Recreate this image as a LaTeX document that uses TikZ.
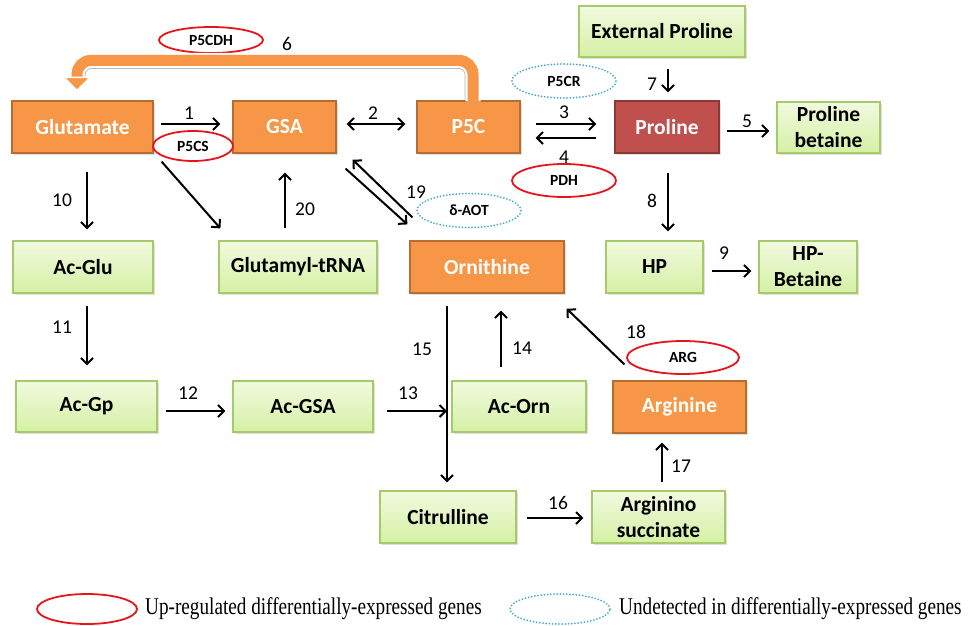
\documentclass[tikz,border=0pt]{standalone}
\usepackage{fontspec}
\setmainfont{Carlito}
\newfontfamily\legendfont{Liberation Serif}
\usepackage{tikz}
\usetikzlibrary{arrows.meta,shadows,shapes.geometric}

\definecolor{orfill}{HTML}{F79646}
\definecolor{ordraw}{HTML}{B66D31}
\definecolor{prfill}{HTML}{C0504D}
\definecolor{prdraw}{HTML}{8C3836}
\definecolor{grtop}{HTML}{F1FADF}
\definecolor{grbot}{HTML}{D5F0A4}
\definecolor{grdraw}{HTML}{A6C96A}
\definecolor{upred}{HTML}{E8141C}
\definecolor{undblue}{HTML}{4BACC6}

\begin{document}
\begin{tikzpicture}[x=1pt,y=-1pt,>={Straight Barb[length=6pt,width=12pt]}]
\tikzstyle{met} = [rectangle, inner sep=0pt, align=center, line width=1.2pt,
  font=\fontsize{21.5}{26}\selectfont\bfseries,
  drop shadow={shadow xshift=1.5pt,shadow yshift=-1.5pt,opacity=.25}]
\tikzstyle{hotbox} = [met, fill=orfill, draw=ordraw, text=white]
\tikzstyle{probox} = [met, fill=prfill, draw=prdraw, text=white]
\tikzstyle{coldbox} = [met, top color=grtop, bottom color=grbot, draw=grdraw]
\tikzstyle{enz} = [ellipse, inner sep=0pt, font=\fontsize{15.5}{16}\selectfont\bfseries]
\tikzstyle{upenz} = [enz, draw=upred, line width=1.8pt]
\tikzstyle{undenz} = [enz, draw=undblue, line width=2pt, line cap=round, dash pattern=on 0pt off 3.2pt]
\tikzstyle{rxn} = [line width=2pt, ->]
\tikzstyle{num} = [inner sep=0pt, font=\fontsize{19.5}{20}\selectfont]
\tikzstyle{keytext} = [anchor=west, inner sep=0pt, font=\legendfont\fontsize{24}{26}\selectfont]

\useasboundingbox (0,0) rectangle (970,625);

% metabolites
\node[hotbox, minimum width=141pt, minimum height=52pt] (glu) at (82.5,127) {Glutamate};
\node[hotbox, minimum width=103pt, minimum height=52pt] (gsa) at (284.5,127) {GSA};
\node[hotbox, minimum width=103pt, minimum height=52pt] (pvc) at (468.5,127) {P5C};
\node[probox, minimum width=104pt, minimum height=52pt] (pro) at (667,127) {Proline};
\node[coldbox, minimum width=103pt, minimum height=51pt] (probet) at (828.5,127.5) {Proline\\betaine};
\node[coldbox, minimum width=166pt, minimum height=51pt] (extpro) at (662,31.5) {External Proline};
\node[coldbox, minimum width=140pt, minimum height=52pt] (acglu) at (83,267) {Ac-Glu};
\node[coldbox, minimum width=158pt, minimum height=52pt] (gtrna) at (298,267) {Glutamyl-tRNA};
\node[hotbox, minimum width=154pt, minimum height=52pt] (orn) at (487,267) {Ornithine};
\node[coldbox, minimum width=97pt, minimum height=52pt] (hp) at (654.5,267) {HP};
\node[coldbox, minimum width=98pt, minimum height=52pt] (hpbet) at (808,267) {HP-\\Betaine};
\node[coldbox, minimum width=141pt, minimum height=51pt] (acgp) at (86.5,406.5) {Ac-Gp};
\node[coldbox, minimum width=140pt, minimum height=51pt] (acgsa) at (303,406.5) {Ac-GSA};
\node[coldbox, minimum width=134pt, minimum height=51pt] (acorn) at (519,406.5) {Ac-Orn};
\node[hotbox, minimum width=133pt, minimum height=52pt] (arg) at (679.5,407) {Arginine};
\node[coldbox, minimum width=136pt, minimum height=52pt] (cit) at (448,517) {Citrulline};
\node[coldbox, minimum width=133pt, minimum height=52pt] (argsuc) at (658.5,517) {Arginino\\succinate};

% enzymes
\node[upenz, minimum width=104pt, minimum height=26pt] (pcdh) at (211,40) {P5CDH};
\node[upenz, minimum width=80pt, minimum height=30pt] (pcs) at (193,146) {P5CS};
\node[undenz, minimum width=104pt, minimum height=34pt] (pcr) at (564,81) {P5CR};
\node[upenz, minimum width=104pt, minimum height=33pt] (pdh) at (564,180.5) {PDH};
\node[undenz, minimum width=104pt, minimum height=34pt] (aot) at (469,210.5) {δ-AOT};
\node[upenz, minimum width=112pt, minimum height=33pt] (argase) at (683,357.5) {ARG};

% reaction 6, back to glutamate
\draw[gray!55, line width=1pt, rounded corners=6pt]
  ([shift={(-3.5,0)}]pvc.north) -- ++(0,-32) -| ([shift={(2.5,-21)}]glu.north);
\draw[white, line width=15pt, rounded corners=14pt]
  ([shift={(4.5,1)}]pvc.north) -- ++(0,-41) -| ([shift={(-5.5,-22)}]glu.north);
\draw[orfill, line width=11pt, rounded corners=14pt]
  ([shift={(4.5,1)}]pvc.north) -- ++(0,-41) -| ([shift={(-5.5,-22)}]glu.north);
\filldraw[fill=orfill, draw=white, line width=1.5pt, line join=round]
  ([shift={(-18.5,-23)}]glu.north) -- ([shift={(7.5,-23)}]glu.north)
  -- ([shift={(-5.5,-10)}]glu.north) -- cycle;

% reactions
\draw[rxn] ([shift={(7,-3)}]glu.east) -- ([shift={(-12,-3)}]gsa.west);
\draw[rxn, <->] ([shift={(10,-3)}]gsa.east) -- ([shift={(-11,-3)}]pvc.west);
\draw[rxn] ([shift={(15,-3)}]pvc.east) -- ([shift={(-18,-3)}]pro.west);
\draw[rxn] ([shift={(-18,11)}]pro.west) -- ([shift={(15,11)}]pvc.east);
\draw[rxn] ([shift={(7,4)}]pro.east) -- ([shift={(-7,3.5)}]probet.west);
\draw[rxn] ([shift={(6,11)}]extpro.south) -- ([shift={(1,-8)}]pro.north);
\draw[rxn] ([shift={(1,19)}]pro.south) -- ([shift={(13.5,-9)}]hp.north);
\draw[rxn] ([shift={(8,4)}]hp.east) -- ([shift={(-7,4)}]hpbet.west);
\draw[rxn] ([shift={(4.5,18)}]glu.south) -- ([shift={(4,-11)}]acglu.north);
\draw[rxn] ([shift={(8,8)}]glu.south east) -- ([shift={(2,-12)}]gtrna.north west);
\draw[rxn] ([shift={(-13,-12)}]gtrna.north) -- ([shift={(0.5,19)}]gsa.south);
\draw[rxn] ([shift={(9,15)}]gsa.south east) -- ([shift={(-2,-16)}]orn.north west);
\draw[rxn] ([shift={(3,-23)}]orn.north west) -- ([shift={(16,6)}]gsa.south east);
\draw[rxn] ([shift={(4,12)}]acglu.south) -- ([shift={(0.5,-15)}]acgp.north);
\draw[rxn] ([shift={(8,4.5)}]acgp.east) -- ([shift={(-7,4.5)}]acgsa.west);
\draw[rxn] ([shift={(-40,12)}]orn.south) -- ([shift={(-1,-8)}]cit.north);
\draw[rxn] ([shift={(13,4.5)}]acgsa.east) -- ([shift={(-1,4.5)}]acgsa.east -| cit.north);
\draw[rxn] ([shift={(-18,-13)}]acorn.north) -- ([shift={(14,17)}]orn.south);
\draw[rxn] ([shift={(10,1)}]cit.east) -- ([shift={(-8,1)}]argsuc.west);
\draw[rxn] ([shift={(3.5,-8)}]argsuc.north) -- ([shift={(-17.5,9)}]arg.south);
\draw[rxn] ([shift={(12,-16)}]arg.north west) -- ([shift={(2,15)}]orn.south east);

% reaction numbers
\foreach \k/\x/\y in {1/189/113, 2/373/113, 3/564/112, 4/564/157, 5/747/121,
  6/287/44, 7/652/84, 8/652/201, 9/724/253, 10/62/200, 11/62/327, 12/188/393,
  13/408/393, 14/522/348, 15/422/349, 16/558/503, 17/681/466, 18/636/332,
  19/416/192, 20/305/209}
  \node[num] (n\k) at (\x,\y) {\k};

% key
\node[upenz, minimum width=100pt, minimum height=30pt] (keyup) at (87,609) {};
\node[keytext] (keyuptext) at (145,609) {\scalebox{0.8}[1]{Up-regulated differentially-expressed genes}};
\node[undenz, minimum width=100pt, minimum height=30pt] (keyund) at (560,609) {};
\node[keytext] (keyundtext) at (619,609) {\scalebox{0.8}[1]{Undetected in differentially-expressed genes}};
\end{tikzpicture}
\end{document}
